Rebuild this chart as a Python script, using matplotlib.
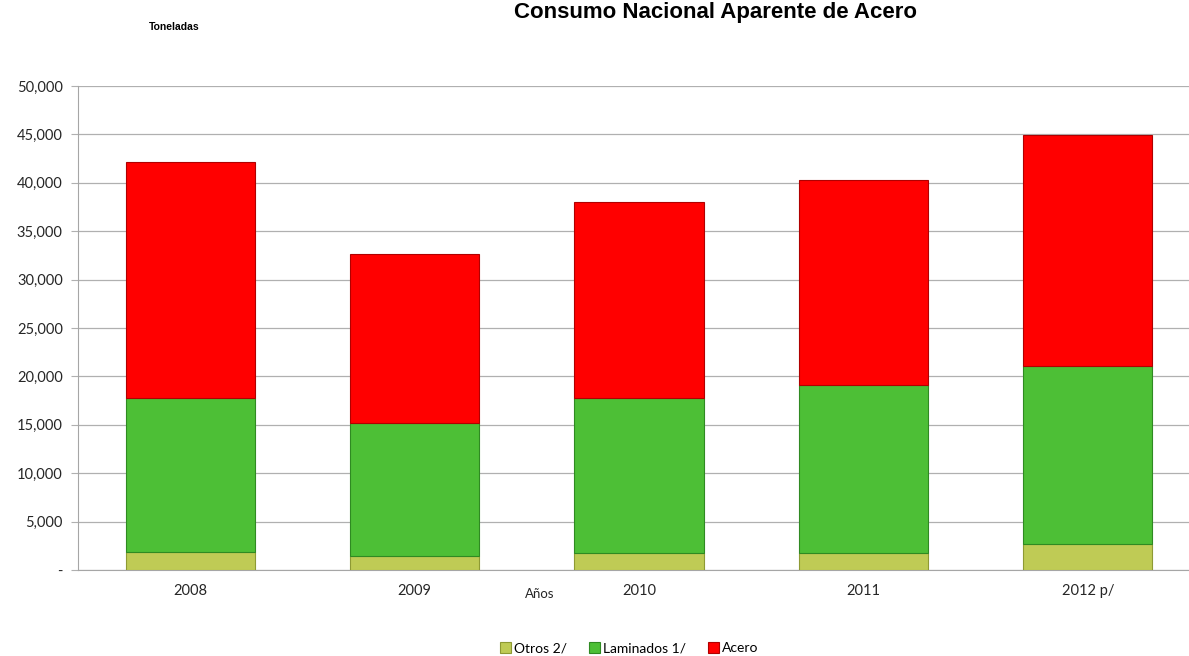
import matplotlib.pyplot as plt
import numpy as np
from matplotlib.ticker import FuncFormatter

# data (toneladas)
years = ['2008', '2009', '2010', '2011', '2012 p/']
otros = [1850, 1450, 1750, 1750, 2700]
laminados = [15950, 13700, 16050, 17350, 18400]
acero = [24300, 17450, 20200, 21200, 23800]

series = [('Otros 2/', otros, '#BFCB55', '#8E9A34'),
          ('Laminados 1/', laminados, '#4DBF36', '#2F8A22'),
          ('Acero', acero, '#FF0000', '#B00000')]


def fmt_y(v, pos):
    if v == 0:
        return '-'
    return '{:,.0f}'.format(v)


fig = plt.figure(figsize=(11.89, 6.56), dpi=100)
ax = fig.add_axes([78 / 1189, 1 - 570 / 656, (1200 - 78) / 1189, (570 - 86) / 656])

x = np.arange(len(years))
width = 0.576
bottom = np.zeros(len(years))
handles = []
for label, vals, color, edge in series:
    vals = np.array(vals, dtype=float)
    b = ax.bar(x, vals, width, bottom=bottom, color=color, edgecolor=edge,
               linewidth=0.8, label=label, zorder=3)
    handles.append(b)
    bottom += vals

ax.set_xlim(-0.5, 4.5)
ax.set_ylim(0, 50000)
ax.set_yticks(np.arange(0, 50001, 5000))
ax.yaxis.set_major_formatter(FuncFormatter(fmt_y))
ax.yaxis.grid(True, color='#B0B0B0', linewidth=0.9, zorder=0)
ax.set_axisbelow(True)

ax.set_xticks(x)
ax.set_xticklabels(years)
ax.tick_params(axis='x', length=0, pad=10, labelsize=10.5, labelcolor='#262626')
ax.tick_params(axis='y', length=5, color='#B0B0B0', pad=6, labelsize=10.5,
               labelcolor='#262626')
for lbl in ax.get_xticklabels() + ax.get_yticklabels():
    lbl.set_family('Lato')

for side in ['top', 'right']:
    ax.spines[side].set_visible(False)
ax.spines['left'].set_color('#A6A6A6')
ax.spines['bottom'].set_color('#A6A6A6')

fig.text(716 / 1189, 1 - 2 / 656, 'Consumo Nacional Aparente de Acero',
         ha='center', va='top', fontsize=16, fontweight='bold',
         family='Liberation Sans')
fig.text(149 / 1189, 1 - 27 / 656, 'Toneladas', ha='left', va='center',
         fontsize=7.5, fontweight='bold', family='Liberation Sans')
fig.text(540 / 1189, 1 - 594 / 656, 'Años', ha='center', va='center',
         fontsize=9.5, family='Lato', color='#262626')

fig.legend(handles=handles, loc='center', bbox_to_anchor=(629 / 1189, 1 - 648 / 656),
           ncol=3, frameon=False, handlelength=0.8, handleheight=0.8,
           handletextpad=0.2, columnspacing=1.6,
           prop={'family': 'Lato', 'size': 10})

fig.savefig('out.png', dpi=100)
